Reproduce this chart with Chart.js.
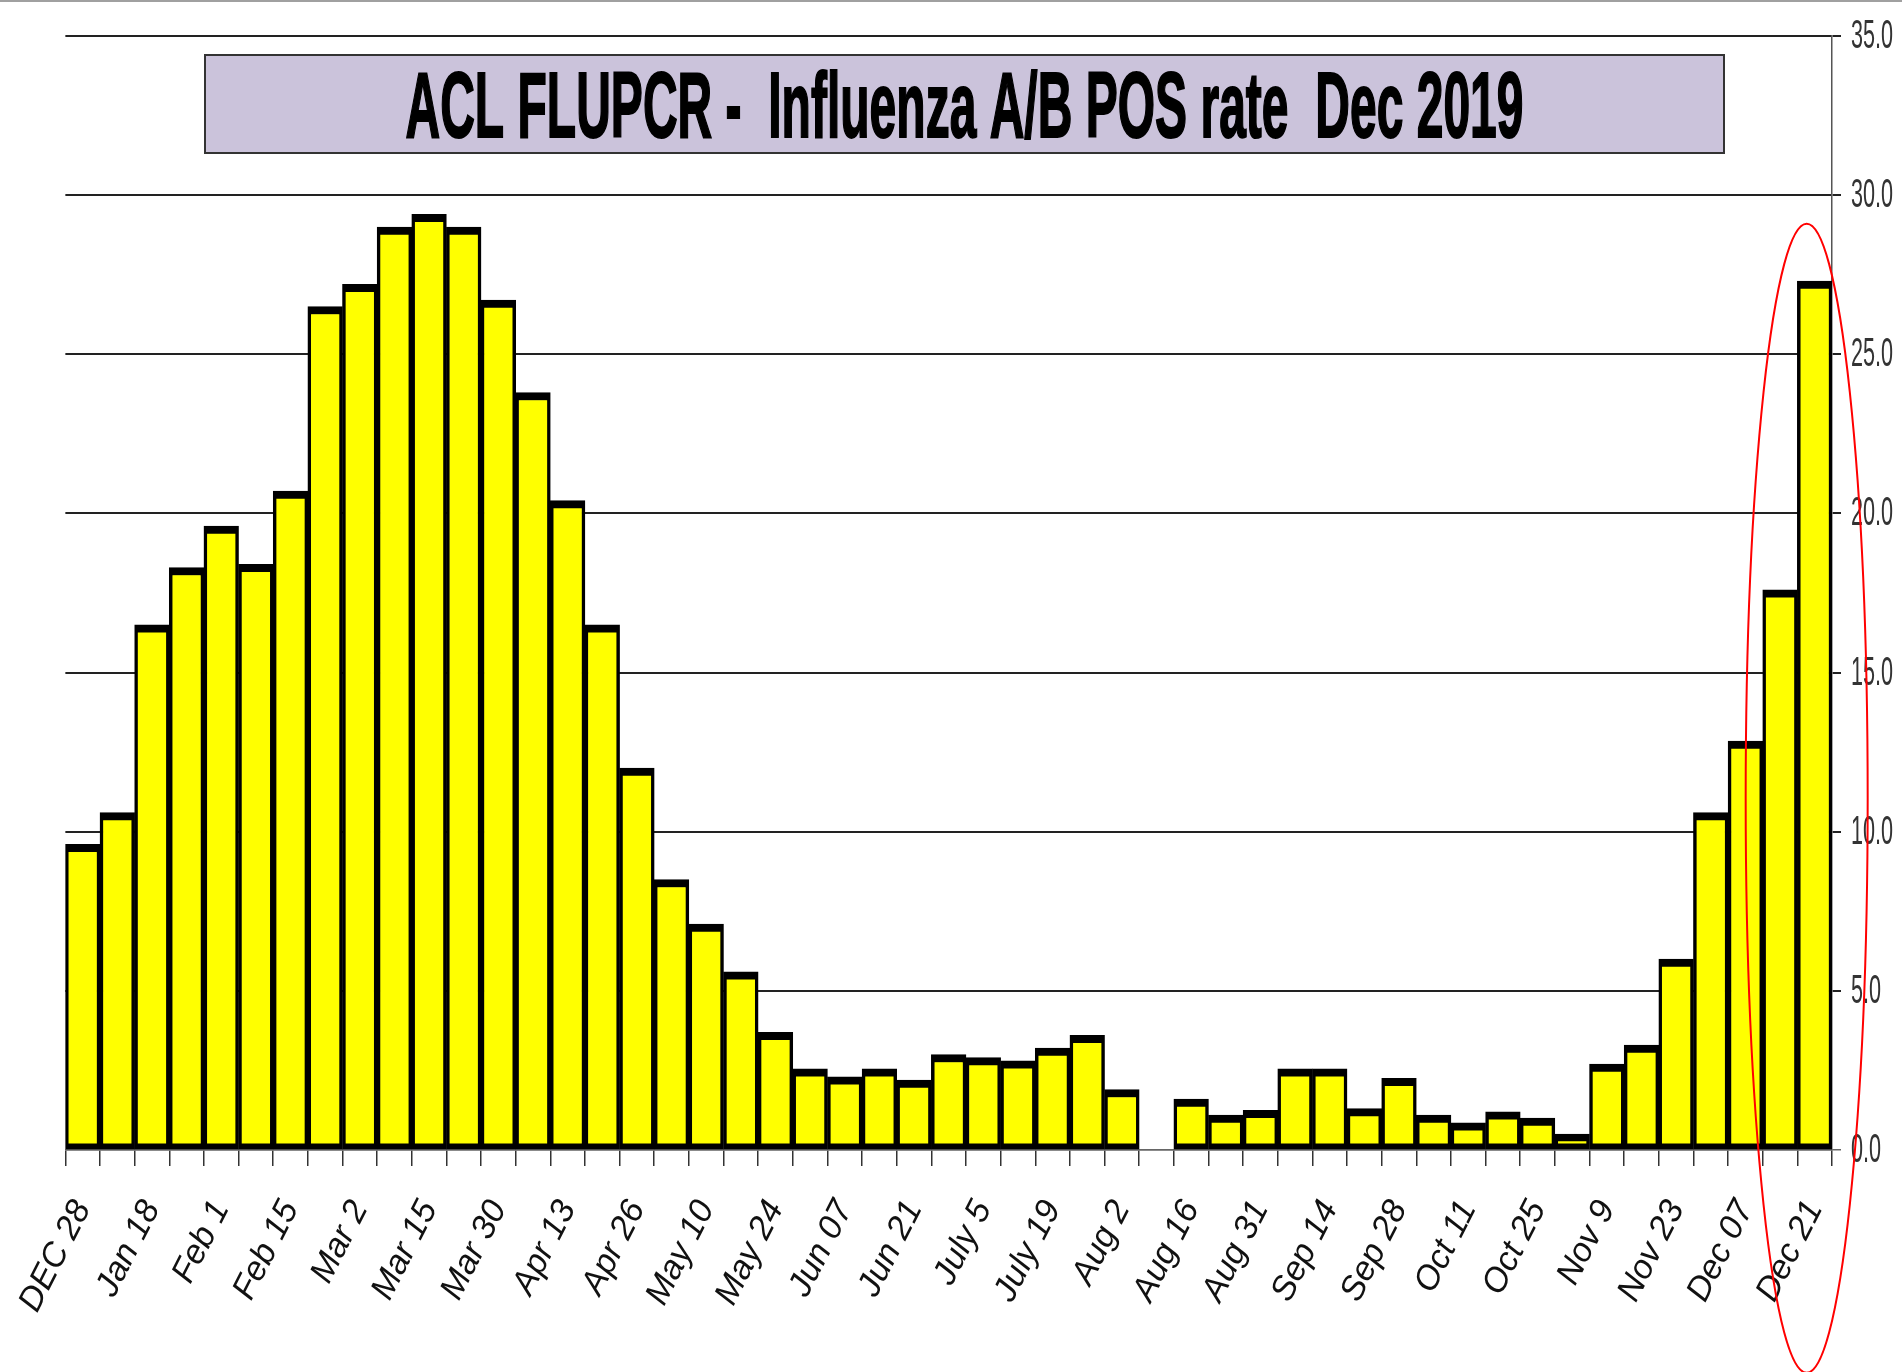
<!DOCTYPE html>
<html>
<head>
<meta charset="utf-8">
<script src="https://cdn.jsdelivr.net/npm/chart.js@4.4.0/dist/chart.umd.min.js"></script>
<style>
  html, body { margin: 0; padding: 0; background: #fff; }
  #wrap { width: 1902px; height: 1372px; }
</style>
</head>
<body>
<div id="wrap"><canvas id="fluChart" width="1902" height="1372"></canvas></div>
<script>
// labels shown under every second week
const tickLabels = ['DEC 28', 'Jan 18', 'Feb 1', 'Feb 15', 'Mar 2', 'Mar 15', 'Mar 30', 'Apr 13', 'Apr 26',
  'May 10', 'May 24', 'Jun 07', 'Jun 21', 'July 5', 'July 19', 'Aug 2', 'Aug 16', 'Aug 31', 'Sep 14',
  'Sep 28', 'Oct 11', 'Oct 25', 'Nov 9', 'Nov 23', 'Dec 07', 'Dec 21'];

// weekly influenza A/B positive rate (%), null = week with no result
const posRate = [9.6, 10.6, 16.5, 18.3, 19.6, 18.4, 20.7, 26.5, 27.2, 29.0, 29.4, 29.0, 26.7, 23.8,
  20.4, 16.5, 12.0, 8.5, 7.1, 5.6, 3.7, 2.55, 2.3, 2.55, 2.2, 3.0, 2.9, 2.8, 3.2, 3.6, 1.9, null,
  1.6, 1.1, 1.25, 2.55, 2.55, 1.3, 2.25, 1.1, 0.85, 1.2, 1.0, 0.5, 2.7, 3.3, 6.0, 10.6, 12.85, 17.6, 27.3];

const yMin = 0, yMax = 35, yStep = 5;
const titleText = 'ACL FLUPCR -  Influenza A/B POS rate  Dec 2019';

// one category per week, blank between the labelled ones
const weeks = [];
tickLabels.forEach((lbl, i) => {
  weeks.push(lbl);
  if (i < tickLabels.length - 1) weeks.push('');
});

// squeezed text, the original uses a very narrow face
function narrowText(ctx, txt, x, y, font, sx, align) {
  ctx.save();
  ctx.font = font;
  ctx.textAlign = align;
  ctx.translate(x, y);
  ctx.scale(sx, 1);
  ctx.fillText(txt, 0, 0);
  ctx.restore();
}

// title box, top border, y labels and the red ring round the last weeks
const decorations = {
  id: 'decorations',
  afterDraw(chart) {
    const { ctx } = chart;
    const x = chart.scales.x, y = chart.scales.y;
    ctx.save();

    ctx.strokeStyle = '#a0a0a0';
    ctx.lineWidth = 2;
    ctx.beginPath();
    ctx.moveTo(0, 1);
    ctx.lineTo(chart.width, 1);
    ctx.stroke();

    const bx = 205, by = 55, bw = 1519, bh = 98;
    ctx.fillStyle = '#cbc3db';
    ctx.fillRect(bx, by, bw, bh);
    ctx.strokeStyle = '#333';
    ctx.lineWidth = 2;
    ctx.strokeRect(bx, by, bw, bh);

    ctx.font = 'bold 92px "Liberation Sans", Arial, sans-serif';
    const sx = 1118 / ctx.measureText(titleText).width;
    ctx.fillStyle = '#000';
    ctx.textBaseline = 'alphabetic';
    ctx.save();
    ctx.translate(bx + bw / 2, 137);
    ctx.scale(sx, 1);
    ctx.textAlign = 'center';
    ctx.strokeStyle = '#000';
    ctx.lineWidth = 2;
    ctx.strokeText(titleText, 0, 0);
    ctx.fillText(titleText, 0, 0);
    ctx.restore();

    // y tick labels at the scale's own tick positions
    ctx.fillStyle = '#333';
    ctx.textBaseline = 'middle';
    y.ticks.forEach(t => {
      narrowText(ctx, t.value.toFixed(1), y.left + 19, y.getPixelForValue(t.value) + 1,
        '40px "Liberation Sans", Arial, sans-serif', 0.54, 'left');
    });

    const last = posRate.length - 1;
    const cx = x.getPixelForValue(last) - 8;
    const top = y.getPixelForValue(29.1);
    const bottom = y.getPixelForValue(-7.0);
    ctx.strokeStyle = '#ff0000';
    ctx.lineWidth = 2;
    ctx.beginPath();
    ctx.ellipse(cx, (top + bottom) / 2, 61, (bottom - top) / 2, 0, 0, Math.PI * 2);
    ctx.stroke();
    ctx.restore();
  }
};

const ctx = document.getElementById('fluChart');
const fluChart = new Chart(ctx, {
  type: 'bar',
  data: {
    labels: weeks,
    datasets: [{
      data: posRate,
      backgroundColor: '#ffff00',
      borderColor: '#000',
      borderWidth: { top: 8, left: 3.5, right: 3.5, bottom: 6 },
      borderSkipped: false,
      barPercentage: 1,
      categoryPercentage: 1
    }]
  },
  options: {
    responsive: false,
    animation: false,
    devicePixelRatio: 1,
    layout: { padding: { left: 64, top: 36, right: 0, bottom: 0 } },
    plugins: {
      legend: { display: false },
      tooltip: { enabled: false }
    },
    scales: {
      x: {
        grid: { offset: true, drawOnChartArea: false, tickLength: 16, color: '#333', lineWidth: 1.5 },
        border: { display: true, color: '#666', width: 1.5 },
        ticks: {
          autoSkip: false,
          minRotation: 63,
          maxRotation: 63,
          padding: 28,
          color: '#111',
          font: { family: '"Liberation Sans", Arial, sans-serif', style: 'italic', size: 34 }
        },
        afterFit(scale) { scale.height = 222; }
      },
      y: {
        position: 'right',
        min: yMin,
        max: yMax,
        ticks: {
          stepSize: yStep,
          padding: 10,
          color: 'rgba(0,0,0,0)',
          font: { size: 30 },
          callback: v => v.toFixed(1)
        },
        grid: {
          color: c => c.tick && c.tick.value === 0 ? '#666' : '#222',
          lineWidth: c => c.tick && c.tick.value === 0 ? 1.5 : 2,
          tickLength: 9
        },
        border: { color: '#555', width: 1.5 },
        afterFit(scale) { scale.width = 70; }
      }
    }
  },
  plugins: [decorations]
});
</script>
</body>
</html>
